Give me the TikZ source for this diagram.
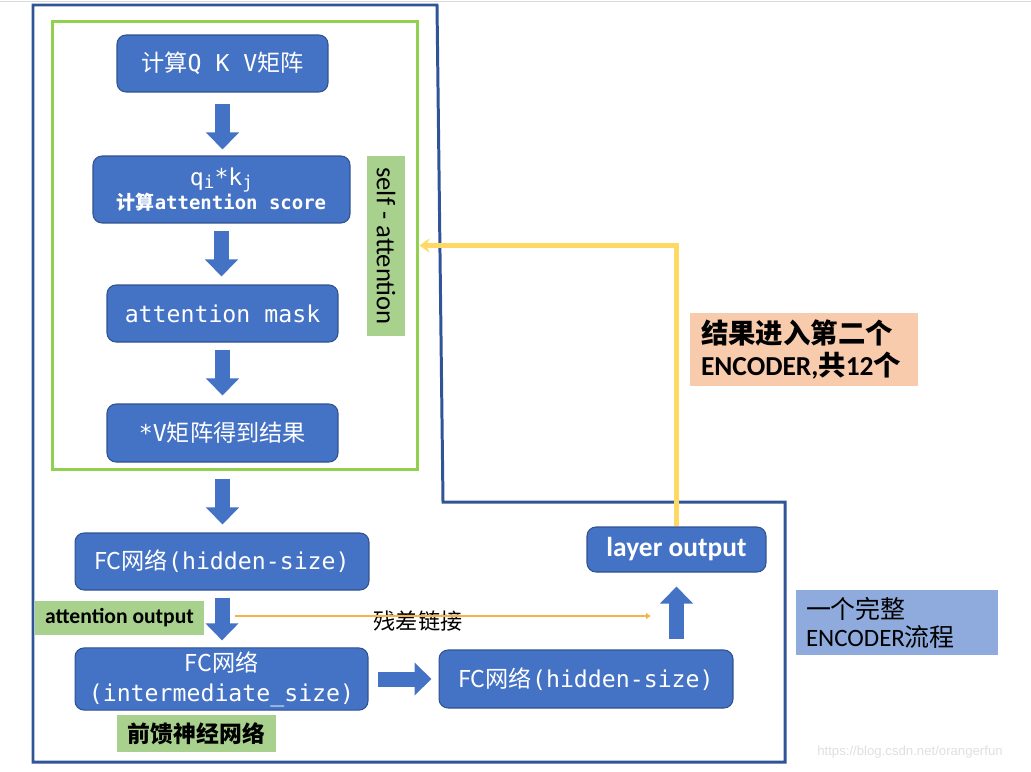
\documentclass[tikz,border=0pt]{standalone}
\usepackage{fontspec}
\setmainfont{Carlito}
\setmonofont{DejaVu Sans Mono}
\newfontfamily\cjk{Noto Sans CJK SC}
\newfontfamily\webfont{Liberation Sans}
\usetikzlibrary{arrows.meta,positioning}
\definecolor{boxblue}{HTML}{4472C4}
\definecolor{boxedge}{HTML}{2F528F}
\definecolor{framegreen}{HTML}{92D050}
\definecolor{encblue}{HTML}{2F5597}
\definecolor{taggreen}{HTML}{A9D18E}
\definecolor{tagorange}{HTML}{F8CBAD}
\definecolor{tagblue}{HTML}{8FAADC}
\definecolor{loopyellow}{HTML}{FFD966}
\definecolor{resorange}{HTML}{F9B24A}

\begin{document}
\begin{tikzpicture}[
    % GLOBAL CFG
    x=0.02cm, y=-0.02cm,
    >=Stealth,
    % Styles
    stepbox/.style={% For the blue steps
        rectangle,
        rounded corners=0.18cm,
        draw=boxedge,
        fill=boxblue,
        line width=0.6pt,
        text=white,
        align=center,
        inner sep=2pt,
        font=\ttfamily\fontsize{13.2}{17}\selectfont,
        },
    tag/.style={% For the coloured labels
        rectangle,
        inner sep=2pt,
        text=black,
        },
    selfframe/.style={% The green self-attention frame
        rectangle,
        draw=framegreen,
        line width=1.7pt,
        },
    encframe/.style={% The whole encoder outline
        draw=encblue,
        line width=1.7pt,
        line join=miter,
        },
    blockarrow/.style={% Fat blue arrows
        draw=boxblue,
        line width=0.3cm,
        -{Triangle[width=0.64cm,length=0.34cm]},
        },
    feedback/.style={% Yellow arrow back to the top
        draw=loopyellow,
        line width=2.3pt,
        -{Stealth[width=0.28cm,length=0.2cm]},
        },
    residual/.style={% Residual connection
        draw=resorange,
        line width=1.5pt,
        -{Latex[width=0.14cm,length=0.1cm]},
        },
    ]
\useasboundingbox (0,0) rectangle (1031,771);
\draw[gray!30, line width=0.5pt] (0,1) -- (1031,1);

%Frames
    \draw[encframe] (33,5) -- (437,5) -- (443,502) -- (785,502) -- (785,762) -- (33,762) -- cycle;
    \node[selfframe, minimum width=7.32cm, minimum height=8.98cm] (selfblock) at (235,245.5) {};

% Steps inside self-attention
    \node[stepbox, minimum width=4.22cm, minimum height=1.14cm] (qkv) at (222.5,63.5) {{\cjk 计算}Q K V{\cjk 矩阵}};
    \node[stepbox, minimum width=5.14cm, minimum height=1.34cm] (score) at (221.5,189.5) {q\raisebox{-.3ex}{\fontsize{10}{10}\selectfont i}*k\raisebox{-.3ex}{\fontsize{10}{10}\selectfont j}\\[-3pt] \fontsize{10.8}{13}\selectfont\bfseries {\cjk 计算}attention score};
    \node[stepbox, minimum width=4.62cm, minimum height=1.14cm] (mask) at (222.5,313.5) {attention mask};
    \node[stepbox, minimum width=4.62cm, minimum height=1.16cm] (result) at (222.5,433) {*V{\cjk 矩阵得到结果}};

% Feed forward part
    \node[stepbox, minimum width=5.88cm, minimum height=1.14cm] (fcone) at (222,561.5) {{\cjk FC网络}(hidden-size)};
    \node[stepbox, minimum width=5.86cm, minimum height=1.16cm] (fctwo) at (221.5,679) {{\cjk FC网络}\\(intermediate\_size)};
    \node[stepbox, minimum width=5.88cm, minimum height=1.16cm] (fcthree) at (586,679) {{\cjk FC网络}(hidden-size)};
    \node[stepbox, minimum width=3.58cm, minimum height=0.9cm, font=\rmfamily\bfseries\fontsize{15.6}{18}\selectfont] (layer) at (676.5,549.5) {layer output};

% Labels
    \node[tag, fill=taggreen, rotate=-90, minimum width=3.6cm, minimum height=0.76cm, font=\fontsize{15.2}{17}\selectfont] (selflabel) at (386,246) {self - attention};
    \node[tag, fill=taggreen, minimum width=3.38cm, minimum height=0.68cm, font=\bfseries\fontsize{12.3}{14}\selectfont] (attout) at (119.5,618) {attention output};
    \node[tag, fill=taggreen, minimum width=3.18cm, minimum height=0.74cm, font=\cjk\bfseries\fontsize{13}{15}\selectfont] (ffn) at (196.5,733.5) {前馈神经网络};
    \node[tag, fill=tagorange, minimum height=1.46cm, inner xsep=0.22cm, text width=4.12cm, align=left, font=\bfseries\fontsize{15.6}{18.7}\selectfont] (nextenc) at (804,349.5) {{\cjk\bfseries 结果进入第二个}\\ENCODER,{\cjk\bfseries 共}12{\cjk\bfseries 个}};
    \node[tag, fill=tagblue, minimum height=1.3cm, inner xsep=0.2cm, text width=3.64cm, align=left, font=\fontsize{14.2}{16}\selectfont] (whole) at (897,622.5) {{\cjk 一个完整}\\ENCODER{\cjk 流程}};
    \node[font=\cjk\fontsize{12.6}{14}\selectfont] (reslabel) at (418,621) {残差链接};
    \node[font=\webfont\fontsize{7.5}{9}\selectfont, text=gray!25] (mark) at (910,752) {https://blog.csdn.net/orangerfun};

% Start connecting all.
    \draw[blockarrow, shorten <=0.22cm, shorten >=0.12cm] (qkv.south) -- (qkv.south |- score.north);
    \draw[blockarrow, shorten <=0.14cm, shorten >=0.16cm] (score.south) -- (score.south |- mask.north);
    \draw[blockarrow, shorten <=0.14cm, shorten >=0.16cm] (mask.south) -- (result.north);
    \draw[blockarrow, shorten <=0.32cm, shorten >=0.16cm] (result.south) -- (result.south |- fcone.north);
    \draw[blockarrow, shorten <=0.14cm, shorten >=0.14cm] (fcone.south) -- (fcone.south |- fctwo.north);
    \draw[blockarrow, shorten <=0.18cm, shorten >=0.14cm] (fctwo.east) -- (fcthree.west);
    \draw[blockarrow, shorten <=0.2cm, shorten >=0.28cm] (layer.south |- fcthree.north) -- (layer.south);

    \draw[feedback] (layer.north) |- (selfblock.east);

    \coordinate (resfrom) at (235,616);
    \coordinate (resto) at (651,616);
    \draw[residual] (resfrom) -- (resto);
\end{tikzpicture}
\end{document}
